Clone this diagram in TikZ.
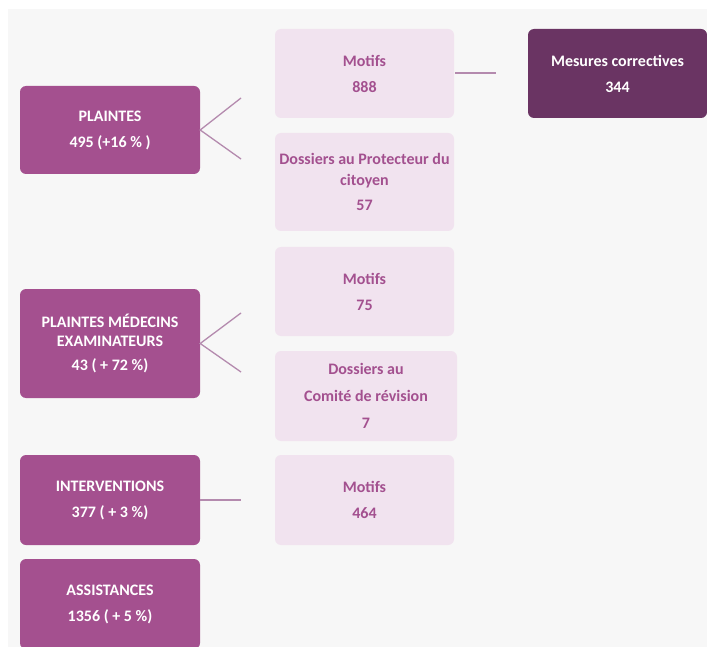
\documentclass[tikz,border=0pt]{standalone}
\usepackage{fontspec}
\setmainfont{Carlito}
\definecolor{bgc}{HTML}{F7F7F7}
\definecolor{darkpink}{HTML}{A4508F}
\definecolor{lightpink}{HTML}{F1E3EF}
\definecolor{textpink}{HTML}{A3508F}
\definecolor{deeppurple}{HTML}{6A3463}
\definecolor{linec}{HTML}{B48AAE}
\begin{document}
\begin{tikzpicture}[x=1pt,y=-1pt,
  box/.style={rounded corners=6pt, inner sep=0pt, align=center,
    font=\fontsize{16}{26}\selectfont\bfseries},
  darkbox/.style={box, fill=darkpink, text=white},
  purplebox/.style={box, fill=deeppurple, text=white},
  lightbox/.style={box, fill=lightpink, text=textpink},
  conn/.style={draw=linec, line width=1.3pt}]
\useasboundingbox (0,0) rectangle (707,647);
\fill[bgc] (8,9) rectangle (707,647);

% left column
\node[darkbox, minimum width=180pt, minimum height=88pt] (plaintes) at (110,130)
  {PLAINTES\\495 (+16 \% )};
\node[darkbox, minimum width=180pt, minimum height=109pt] (medecins) at (110,343.5)
  {PLAINTES MÉDECINS\\[-7pt]EXAMINATEURS\\[-2pt]43 ( + 72 \%)};
\node[darkbox, minimum width=180pt, minimum height=90pt] (interv) at (110,500)
  {INTERVENTIONS\\377 ( + 3 \%)};
\node[darkbox, minimum width=180pt, minimum height=90pt] (assist) at (110,604)
  {ASSISTANCES\\1356 ( + 5 \%)};

% middle column
\node[lightbox, minimum width=179pt, minimum height=89pt] (motifsa) at (364.5,73.5)
  {Motifs\\888};
\node[lightbox, minimum width=179pt, minimum height=98pt] (dossiersa) at (364.5,182)
  {Dossiers au Protecteur du\\[-5pt]citoyen\\[-1pt]57};
\node[lightbox, minimum width=179pt, minimum height=89pt] (motifsb) at (364.5,291.5)
  {Motifs\\75};
\node[lightbox, minimum width=182pt, minimum height=90pt] (dossiersb) at (366,396)
  {Dossiers au\\[1pt]Comité de révision\\[1pt]7};
\node[lightbox, minimum width=179pt, minimum height=90pt] (motifsc) at (364.5,500)
  {Motifs\\464};

% right column
\node[purplebox, minimum width=179pt, minimum height=89pt] (mesures) at (617.5,73.5)
  {Mesures correctives\\344};

% connectors
\coordinate (pa) at (241,98);
\coordinate (pb) at (241,159);
\coordinate (ma) at (241,313);
\coordinate (mb) at (241,372);
\coordinate (ia) at (241,500);
\coordinate (sa) at (455,73);
\coordinate (sb) at (496,73);
\draw[conn] (pa) -- (plaintes.east) -- (pb);
\draw[conn] (ma) -- (medecins.east) -- (mb);
\draw[conn] (interv.east) -- (ia);
\draw[conn] (sa) -- (sb);
\end{tikzpicture}
\end{document}
